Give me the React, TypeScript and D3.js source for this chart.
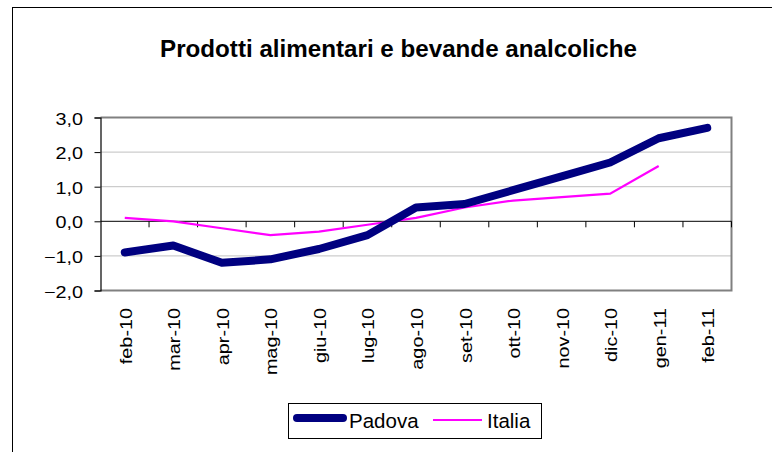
import { useRef, useEffect } from "react";
import * as d3 from "d3";

const months = ["feb-10", "mar-10", "apr-10", "mag-10", "giu-10", "lug-10", "ago-10", "set-10", "ott-10", "nov-10", "dic-10", "gen-11", "feb-11"];
const padova = [-0.9, -0.7, -1.2, -1.1, -0.8, -0.4, 0.4, 0.5, 0.9, 1.3, 1.7, 2.4, 2.7];
const italia = [0.1, 0.0, -0.2, -0.4, -0.3, -0.1, 0.1, 0.4, 0.6, 0.7, 0.8, 1.6, null];
const yTicks = [-2, -1, 0, 1, 2, 3];

export default function App() {
  const ref = useRef<SVGSVGElement>(null);

  useEffect(() => {
    const svg = d3.select(ref.current);
    svg.selectAll("*").remove();

    const left = 100.5, right = 731.5, top = 117.5, bottom = 290.5;
    const font = "Arial, 'Liberation Sans', sans-serif";
    const stretch = 1.2;

    // outer chart frame (only top + left visible)
    svg.append("rect")
      .attr("x", 12.5).attr("y", 7.5)
      .attr("width", 800).attr("height", 500)
      .attr("fill", "none").attr("stroke", "#000").attr("stroke-width", 1);

    svg.append("text")
      .attr("x", 398.5).attr("y", 57)
      .attr("text-anchor", "middle")
      .attr("font-family", font).attr("font-weight", "bold")
      .attr("font-size", 23)
      .attr("textLength", 477).attr("lengthAdjust", "spacingAndGlyphs")
      .text("Prodotti alimentari e bevande analcoliche");

    const x = d3.scaleBand<string>().domain(months).range([left, right]);
    const y = d3.scaleLinear().domain([-2, 3]).range([bottom, top]);
    const cx = (i: number) => x(months[i])! + x.bandwidth() / 2;

    // gridlines
    svg.append("g").selectAll("line")
      .data(yTicks.filter((d) => d !== 0 && d !== -2 && d !== 3))
      .join("line")
      .attr("x1", left).attr("x2", right)
      .attr("y1", (d) => y(d)).attr("y2", (d) => y(d))
      .attr("stroke", "#c0c0c0").attr("stroke-width", 1);

    // plot border
    svg.append("path")
      .attr("d", `M${left},${top}H${right}V${bottom}H${left}`)
      .attr("fill", "none").attr("stroke", "#808080").attr("stroke-width", 2);

    // y axis
    const yAxis = svg.append("g")
      .attr("transform", `translate(${left},0)`)
      .call(d3.axisLeft(y).tickValues(yTicks).tickSize(6).tickFormat(() => ""));
    yAxis.select(".domain").attr("stroke", "#000").attr("stroke-width", 1.2);
    yAxis.selectAll(".tick line").attr("stroke", "#000");

    svg.append("g").selectAll("g")
      .data(yTicks)
      .join("g")
      .attr("transform", (d) => `translate(83,${y(d) + 7}) scale(${stretch},1)`)
      .append("text")
      .attr("text-anchor", "end")
      .attr("font-family", font).attr("font-size", 16.5)
      .text((d) => d3.format(".1f")(d).replace(".", ","));

    // zero line with category ticks
    const zero = y(0);
    svg.append("line")
      .attr("x1", left).attr("x2", right)
      .attr("y1", zero).attr("y2", zero)
      .attr("stroke", "#000").attr("stroke-width", 1);
    svg.append("g").selectAll("line")
      .data(months)
      .join("line")
      .attr("x1", (d) => x(d)! + x.bandwidth()).attr("x2", (d) => x(d)! + x.bandwidth())
      .attr("y1", zero).attr("y2", zero + 6)
      .attr("stroke", "#000").attr("stroke-width", 1);

    // x labels
    svg.append("g").selectAll("g")
      .data(months)
      .join("g")
      .attr("transform", (d, i) => `translate(${cx(i) + 7},308) rotate(-90) scale(${stretch},1)`)
      .append("text")
      .attr("text-anchor", "end")
      .attr("font-family", font).attr("font-size", 16.5)
      .text((d) => d);

    // series
    const line = d3.line<number | null>()
      .defined((d) => d !== null)
      .x((d, i) => cx(i))
      .y((d) => y(d as number));

    svg.append("path")
      .datum(italia)
      .attr("d", line)
      .attr("fill", "none").attr("stroke", "#ff00ff").attr("stroke-width", 2.2);

    svg.append("path")
      .datum(padova)
      .attr("d", line)
      .attr("fill", "none").attr("stroke", "#000080").attr("stroke-width", 8)
      .attr("stroke-linecap", "round").attr("stroke-linejoin", "round");

    // legend
    const lg = svg.append("g");
    lg.append("rect")
      .attr("x", 288.5).attr("y", 403.5).attr("width", 253).attr("height", 35)
      .attr("fill", "#fff").attr("stroke", "#000").attr("stroke-width", 1);
    lg.append("line")
      .attr("x1", 297).attr("x2", 343).attr("y1", 418).attr("y2", 418)
      .attr("stroke", "#000080").attr("stroke-width", 8).attr("stroke-linecap", "round");
    lg.append("text")
      .attr("x", 349).attr("y", 427.5)
      .attr("font-family", font).attr("font-size", 20.5)
      .text("Padova");
    lg.append("line")
      .attr("x1", 433).attr("x2", 482).attr("y1", 420).attr("y2", 420)
      .attr("stroke", "#ff00ff").attr("stroke-width", 2);
    lg.append("text")
      .attr("x", 487).attr("y", 427.5)
      .attr("font-family", font).attr("font-size", 20.5)
      .text("Italia");
  }, []);

  return (
    <svg
      ref={ref}
      width={772}
      height={452}
      style={{ position: "absolute", left: 0, top: 0, background: "#fff" }}
    />
  );
}
